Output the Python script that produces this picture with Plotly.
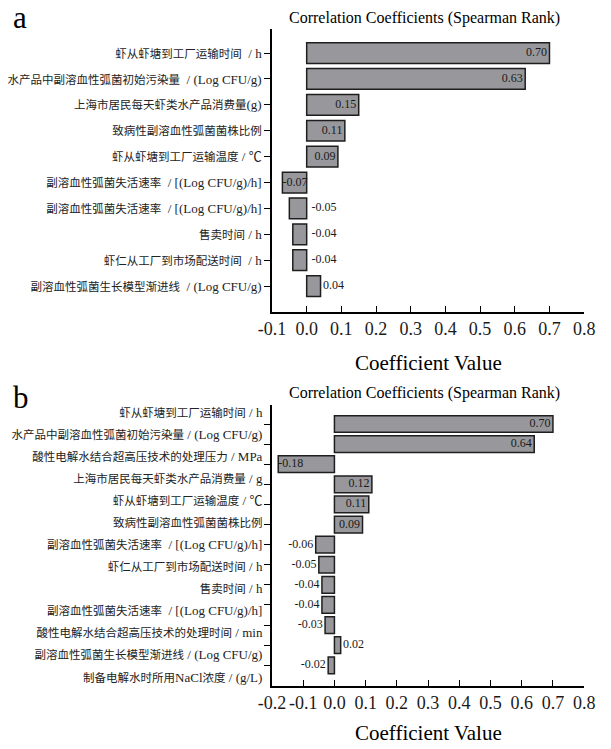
import re
import plotly.graph_objects as go

W, H = 611, 749

# ---------------- data ----------------
labels_a = [
    "虾从虾塘到工厂运输时间  / h",
    "水产品中副溶血性弧菌初始污染量  / (Log CFU/g)",
    "上海市居民每天虾类水产品消费量(g)",
    "致病性副溶血性弧菌菌株比例",
    "虾从虾塘到工厂运输温度 / ℃",
    "副溶血性弧菌失活速率  / [(Log CFU/g)/h]",
    "副溶血性弧菌失活速率  / [(Log CFU/g)/h]",
    "售卖时间 / h",
    "虾仁从工厂到市场配送时间  / h",
    "副溶血性弧菌生长模型渐进线  / (Log CFU/g)",
]
values_a = [0.70, 0.63, 0.15, 0.11, 0.09, -0.07, -0.05, -0.04, -0.04, 0.04]

labels_b = [
    "虾从虾塘到工厂运输时间 / h",
    "水产品中副溶血性弧菌初始污染量 / (Log CFU/g)",
    "酸性电解水结合超高压技术的处理压力 / MPa",
    "上海市居民每天虾类水产品消费量 / g",
    "虾从虾塘到工厂运输温度 / ℃",
    "致病性副溶血性弧菌菌株比例",
    "副溶血性弧菌失活速率  / [(Log CFU/g)/h]",
    "虾仁从工厂到市场配送时间 / h",
    "售卖时间 / h",
    "副溶血性弧菌失活速率  / [(Log CFU/g)/h]",
    "酸性电解水结合超高压技术的处理时间 / min",
    "副溶血性弧菌生长模型渐进线 / (Log CFU/g)",
    "制备电解水时所用NaCl浓度 / (g/L)",
]
values_b = [0.70, 0.64, -0.18, 0.12, 0.11, 0.09, -0.06, -0.05, -0.04, -0.04, -0.03, 0.02, -0.02]

xticks_a = [-0.1, 0.0, 0.1, 0.2, 0.3, 0.4, 0.5, 0.6, 0.7, 0.8]
xticklabels_a = ["-0.1", "0.0", "0.1", "0.2", "0.3", "0.4", "0.5", "0.6", "0.7", "0.8"]
xticks_b = [-0.2, -0.1, 0.0, 0.1, 0.2, 0.3, 0.4, 0.5, 0.6, 0.7, 0.8]
xticklabels_b = ["-0.2", "-0.1", "0.0", "0.1", "0.2", "0.3", "0.4", "0.5", "0.6", "0.7", "0.8"]

title_text = "Correlation Coefficients (Spearman Rank)"
xaxis_title = "Coefficient Value"

# label placement styles (not data)
mode_a = ["in_end"] * 5 + ["in_start"] + ["zero_right"] * 3 + ["out_right"]
mode_b = ["in_end"] * 2 + ["in_start"] + ["in_end"] * 3 + ["out_left"] * 5 + ["out_right"] + ["out_left"]

# ---------------- style ----------------
SERIF = "Liberation Serif, Times New Roman, Noto Sans CJK SC, serif"
BAR_FILL = "#98989c"
BAR_EDGE = "#1e1e1e"
TXT = "#1a1a1a"
PAD = "\u2009"
LATIN_SIZE = 13
CJK_SIZE = 11.5


def fmt_label(s):
    # CJK runs a bit smaller than the Latin parts, as in the reference
    return re.sub(r"([\u3000-\u9fff]+)",
                  lambda m: f'<span style="font-size:{CJK_SIZE}px">{m.group(1)}</span>', s)


def px_x(p):
    return p / W


def px_y(p):
    return 1 - p / H


fig = go.Figure()


def add_panel(vals, modes, xa, ya, bar_w):
    n = len(vals)
    idx = list(range(n))
    fig.add_trace(go.Bar(
        x=vals, y=idx, orientation="h", width=bar_w,
        marker=dict(color=BAR_FILL, line=dict(color=BAR_EDGE, width=1.5)),
        xaxis=xa, yaxis=ya, hoverinfo="skip", showlegend=False,
    ))
    groups = {}
    for i, (v, m) in enumerate(zip(vals, modes)):
        s = f"{v:.2f}"
        if m == "in_end":
            x, pos, t = v, "middle left", s + PAD
        elif m == "in_start":
            x, pos, t = v, "middle right", s
        elif m == "zero_right":
            x, pos, t = 0.0, "middle right", PAD + PAD + s
        elif m == "out_right":
            x, pos, t = v, "middle right", PAD + s
        else:  # out_left
            x, pos, t = v, "middle left", s + PAD
        groups.setdefault(pos, ([], [], []))
        groups[pos][0].append(x)
        groups[pos][1].append(i)
        groups[pos][2].append(t)
    for pos, (xs, ys, ts) in groups.items():
        fig.add_trace(go.Scatter(
            x=xs, y=ys, text=ts, mode="text", textposition=pos,
            textfont=dict(family=SERIF, size=12, color=TXT),
            xaxis=xa, yaxis=ya, hoverinfo="skip", showlegend=False,
            cliponaxis=False,
        ))


add_panel(values_a, mode_a, "x", "y", 0.8)
add_panel(values_b, mode_b, "x2", "y2", 0.83)

# invisible trace for the label-only axis of panel b
fig.add_trace(go.Scatter(
    x=values_b, y=list(range(len(values_b))), mode="markers",
    marker=dict(opacity=0), xaxis="x2", yaxis="y3",
    hoverinfo="skip", showlegend=False,
))

x_dom = [px_x(269), px_x(594.5)]
ya_dom = [px_y(312), px_y(29)]
yb_dom = [px_y(686), px_y(405)]

common_x = dict(
    showline=True, linecolor="black", linewidth=1.5, ticks="inside", ticklen=6,
    tickcolor="black", tickwidth=1.2, showgrid=False, zeroline=False,
    tickangle=0, tickfont=dict(family=SERIF, size=18, color=TXT),
    fixedrange=True,
)
common_y = dict(
    showline=True, linecolor="black", linewidth=1.5, ticks="outside", ticklen=6,
    tickcolor="black", tickwidth=1.2, showgrid=False, zeroline=False,
    tickfont=dict(family=SERIF, size=LATIN_SIZE, color="#222"), fixedrange=True,
)

n_a = len(values_a)
n_b = len(values_b)

fig.update_layout(
    width=W, height=H,
    margin=dict(l=0, r=0, t=0, b=0),
    paper_bgcolor="white", plot_bgcolor="white",
    showlegend=False,
    xaxis=dict(domain=x_dom, range=[-0.1, 0.8], anchor="y",
               tickvals=xticks_a, ticktext=xticklabels_a, **common_x),
    yaxis=dict(domain=ya_dom, range=[n_a - 0.0, -0.93], anchor="x",
               tickvals=list(range(n_a)), ticktext=[fmt_label(s) for s in labels_a],
               **common_y),
    xaxis2=dict(domain=x_dom, range=[-0.2, 0.8], anchor="y2",
                tickvals=xticks_b, ticktext=xticklabels_b, **common_x),
    yaxis2=dict(domain=yb_dom, range=[n_b + 0.03, -0.945], anchor="x2",
                tickvals=list(range(n_b)), showticklabels=False, **common_y),
    yaxis3=dict(overlaying="y2", anchor="x2", side="left",
                range=[n_b - 1 + 0.41, -0.317],
                tickvals=list(range(n_b)), ticktext=[fmt_label(s) for s in labels_b],
                showline=False, ticks="outside", ticklen=6,
                tickcolor="rgba(0,0,0,0)", showgrid=False, zeroline=False,
                tickfont=dict(family=SERIF, size=LATIN_SIZE, color="#222"), fixedrange=True),
)

xc = (x_dom[0] + x_dom[1]) / 2
ann = [
    dict(text=title_text, x=px_x(428), y=px_y(18), size=16, xa="center"),
    dict(text=title_text, x=px_x(428), y=px_y(393), size=16, xa="center"),
    dict(text=xaxis_title, x=xc, y=px_y(363), size=21, xa="center"),
    dict(text=xaxis_title, x=xc, y=px_y(733), size=21, xa="center"),
    dict(text="a", x=px_x(-3), y=px_y(17), size=31, xa="left"),
    dict(text="b", x=px_x(-3), y=px_y(397), size=31, xa="left"),
]
for a in ann:
    fig.add_annotation(
        text=a["text"], x=a["x"], y=a["y"], xref="paper", yref="paper",
        xanchor=a["xa"], yanchor="middle", showarrow=False,
        font=dict(family=SERIF, size=a["size"], color="black"),
    )

fig.write_html("out.html", config={"displayModeBar": False},
               post_script="document.body.style.margin='0';")
